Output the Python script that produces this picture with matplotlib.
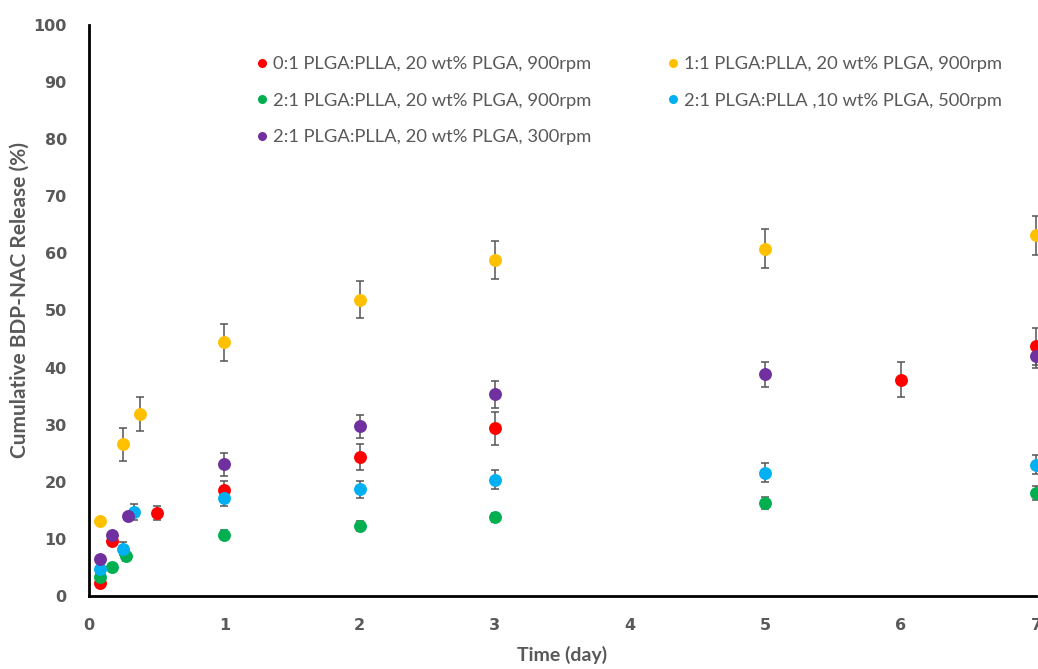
import matplotlib
matplotlib.use("Agg")
import matplotlib.pyplot as plt
from matplotlib.lines import Line2D

# Release profiles: time (day), cumulative release (%), standard deviation (%)
labels = [
    "0:1 PLGA:PLLA, 20 wt% PLGA, 900rpm",
    "1:1 PLGA:PLLA, 20 wt% PLGA, 900rpm",
    "2:1 PLGA:PLLA, 20 wt% PLGA, 900rpm",
    "2:1 PLGA:PLLA ,10 wt% PLGA, 500rpm",
    "2:1 PLGA:PLLA, 20 wt% PLGA, 300rpm",
]
colors = ["#FF0000", "#FFC000", "#00B050", "#00B0F0", "#7030A0"]

red_t = [0.083, 0.167, 0.5, 1, 2, 3, 6, 7]
red_y = [2.2, 9.6, 14.5, 18.6, 24.3, 29.4, 37.9, 43.7]
red_e = [0.4, 0.6, 1.2, 1.6, 2.3, 2.9, 3.0, 3.2]

yellow_t = [0.083, 0.25, 0.375, 1, 2, 3, 5, 7]
yellow_y = [13.2, 26.6, 31.9, 44.4, 51.9, 58.9, 60.8, 63.2]
yellow_e = [0.3, 2.9, 3.0, 3.2, 3.3, 3.3, 3.4, 3.4]

green_t = [0.083, 0.167, 0.27, 1, 2, 3, 5, 7]
green_y = [3.4, 5.0, 7.0, 10.7, 12.2, 13.8, 16.3, 18.0]
green_e = [0.3, 0.3, 0.8, 0.8, 0.9, 0.8, 1.0, 1.2]

blue_t = [0.083, 0.25, 0.333, 1, 2, 3, 5, 7]
blue_y = [4.7, 8.3, 14.7, 17.2, 18.7, 20.4, 21.6, 23.0]
blue_e = [0.3, 1.1, 1.4, 1.4, 1.5, 1.6, 1.7, 1.7]

purple_t = [0.083, 0.167, 0.29, 1, 2, 3, 5, 7]
purple_y = [6.5, 10.6, 14.0, 23.1, 29.7, 35.3, 38.8, 42.0]
purple_e = [0.3, 0.4, 0.5, 2.0, 2.0, 2.3, 2.2, 2.0]

series = [
    (red_t, red_y, red_e),
    (yellow_t, yellow_y, yellow_e),
    (green_t, green_y, green_e),
    (blue_t, blue_y, blue_e),
    (purple_t, purple_y, purple_e),
]

x_ticks = [0, 1, 2, 3, 4, 5, 6, 7]
y_ticks = [0, 10, 20, 30, 40, 50, 60, 70, 80, 90, 100]

grey = "#595959"
text_font = "Lato"

W, H = 1038, 669
fig = plt.figure(figsize=(W / 100, H / 100), dpi=100)
ax = fig.add_axes([89 / W, (H - 596) / H, (1036 - 89) / W, (596 - 25) / H])

for (t, y, e), c in zip(series, colors):
    _, caps, bars = ax.errorbar(t, y, yerr=e, fmt="o", color=c, markersize=9.3,
                                markeredgewidth=0, ecolor="#555555",
                                elinewidth=1.1, capsize=2.8, clip_on=False,
                                zorder=3)
    for cap in caps:
        cap.set_markeredgewidth(1.1)
        cap.set_clip_on(False)
    for b in bars:
        b.set_clip_on(False)

ax.set_xlim(0, 7)
ax.set_ylim(0, 100)
ax.set_xticks(x_ticks)
ax.set_yticks(y_ticks)
ax.tick_params(axis="y", length=0, pad=16, labelcolor=grey, labelsize=11.5)
ax.tick_params(axis="x", length=0, pad=16, labelcolor=grey, labelsize=11.5)
for lab in ax.get_xticklabels() + ax.get_yticklabels():
    lab.set_fontweight("bold")
    lab.set_family("DejaVu Sans")

for s in ("top", "right"):
    ax.spines[s].set_visible(False)
for s in ("left", "bottom"):
    ax.spines[s].set_linewidth(2)
    ax.spines[s].set_color("black")

ax.set_xlabel("Time (day)", fontsize=14, fontweight="bold", color=grey,
              family=text_font, labelpad=9)
ax.set_ylabel("Cumulative BDP-NAC Release (%)", fontsize=15, fontweight="bold",
              color=grey, family=text_font)
ax.yaxis.set_label_coords(-0.063, 0.518)

handles = [Line2D([], [], marker="o", linestyle="none", color=c, markersize=6.5,
                  markeredgewidth=0) for c in colors]
order = [0, 2, 4, 1, 3]
leg = ax.legend([handles[i] for i in order], [labels[i] for i in order], ncol=2,
                loc="upper left", bbox_to_anchor=(0.170, 0.958), frameon=False,
                handlelength=0.5, handletextpad=0.35, columnspacing=4.2,
                labelspacing=1.12, borderaxespad=0.0,
                prop={"family": text_font, "size": 13.2})
for txt in leg.get_texts():
    txt.set_color(grey)

fig.savefig("out.png", dpi=100)
